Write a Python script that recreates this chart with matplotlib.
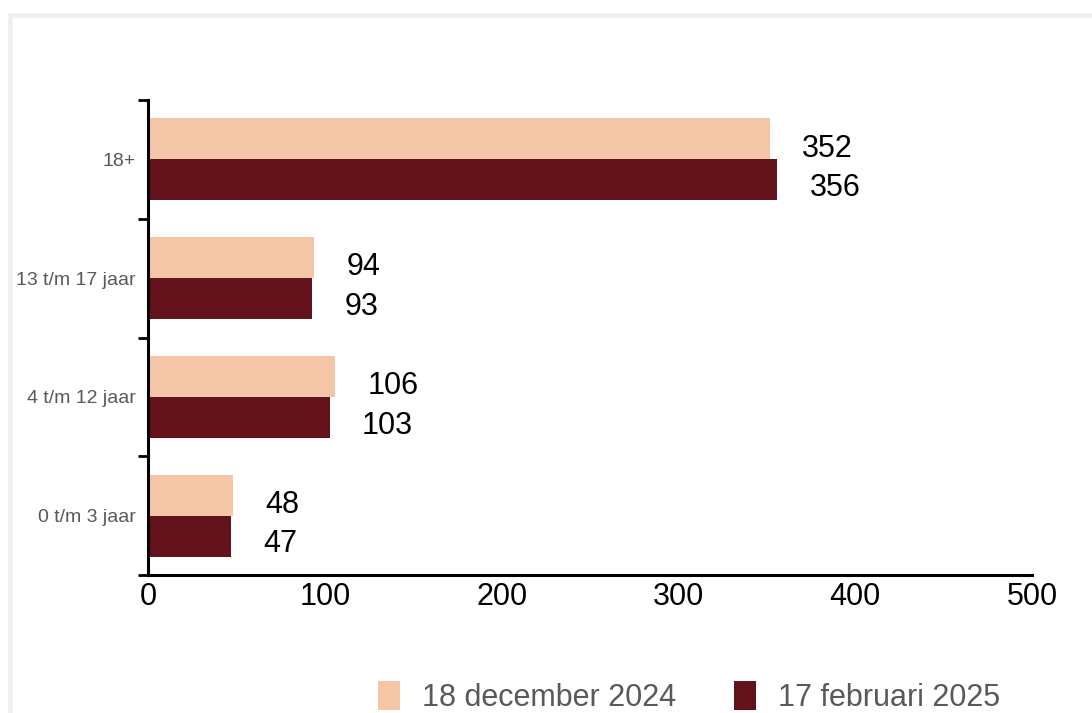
import matplotlib
matplotlib.use("Agg")
import matplotlib.pyplot as plt
import numpy as np
from matplotlib.patches import Rectangle, Patch

plt.rcParams['font.family'] = ['Liberation Sans', 'DejaVu Sans']

categories = ["0 t/m 3 jaar", "4 t/m 12 jaar", "13 t/m 17 jaar", "18+"]
series_names = ["18 december 2024", "17 februari 2025"]
dec_2024 = [48, 106, 94, 352]
feb_2025 = [47, 103, 93, 356]
x_ticks = [0, 100, 200, 300, 400, 500]

light = "#F4C6A7"
dark = "#63121B"

fig = plt.figure(figsize=(10.92, 7.13), dpi=100)
ax = fig.add_axes([148/1092, 1-575/713, (1032-148)/1092, (575-100)/713])

y = np.arange(len(categories))
h = 0.345
b1 = ax.barh(y + h/2, dec_2024, height=h, color=light, label=series_names[0])
b2 = ax.barh(y - h/2, feb_2025, height=h, color=dark, label=series_names[1])

for bars, vals, dy in ((b1, dec_2024, -7), (b2, feb_2025, -6)):
    for rect, v in zip(bars, vals):
        ax.annotate(str(v), xy=(v, rect.get_y() + rect.get_height()/2),
                    xytext=(23, dy), textcoords="offset points",
                    ha="left", va="center", fontsize=22, color="black")

ax.set_xlim(0, 500)
ax.set_ylim(-0.5, len(categories) - 0.5)
ax.set_xticks(x_ticks)
ax.set_xticklabels([str(t) for t in x_ticks])
ax.set_yticks(y)
ax.set_yticklabels(categories)
ax.set_yticks(np.arange(-0.5, len(categories), 1.0), minor=True)

ax.tick_params(axis="x", length=0, labelsize=22, pad=5, colors="black")
ax.tick_params(axis="y", which="major", length=0, labelsize=14, pad=9, labelcolor="#595959")
ax.tick_params(axis="y", which="minor", length=7, width=2, direction="out", color="black")

for s in ("top", "right"):
    ax.spines[s].set_visible(False)
for s in ("left", "bottom"):
    ax.spines[s].set_linewidth(2.2)
    ax.spines[s].set_color("black")

# light frame of the screenshot
fig.patches.append(Rectangle((10/1092, -0.1), 1.2, 1-15/713 + 0.1,
                             transform=fig.transFigure, fill=False,
                             edgecolor="#efefef", linewidth=3.5, zorder=0))

handles = [Patch(facecolor=light), Patch(facecolor=dark)]
fig.legend(handles, series_names, ncol=2, loc="center left",
           bbox_to_anchor=(378/1092, 1-697/713), frameon=False,
           fontsize=22, labelcolor="#595959", borderpad=0, borderaxespad=0,
           handlelength=0.72, handleheight=1.1, handletextpad=0.72,
           columnspacing=1.9)

fig.savefig("out.png", dpi=100)
